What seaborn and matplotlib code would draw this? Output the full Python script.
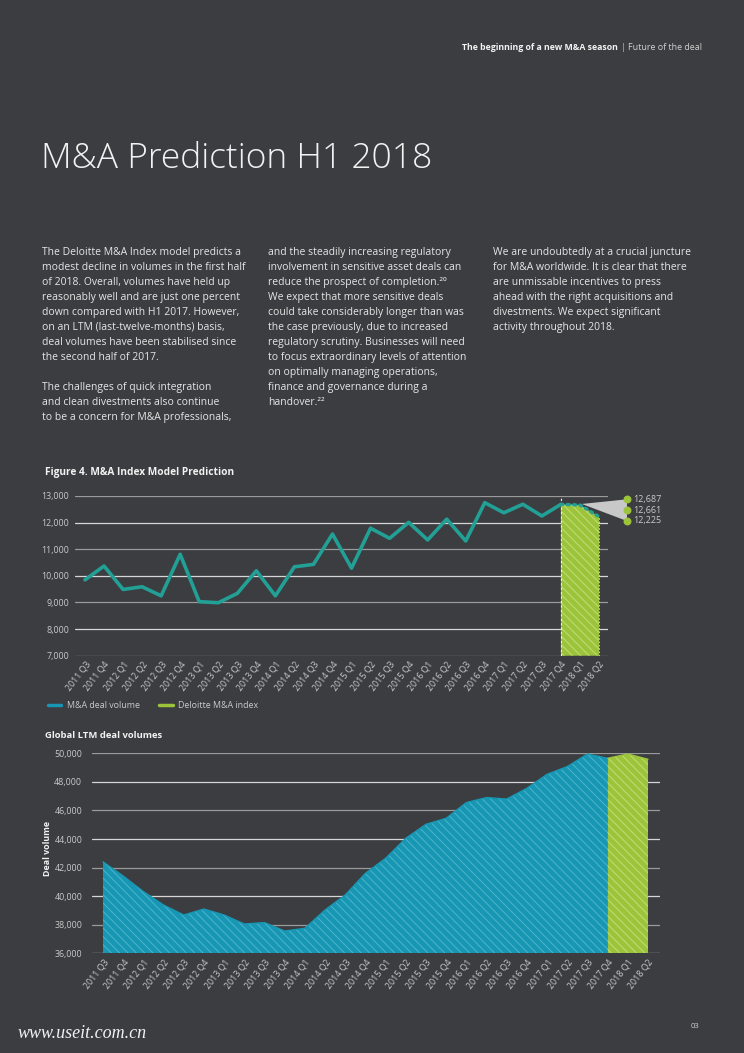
import matplotlib
matplotlib.use('Agg')
import matplotlib.pyplot as plt
from matplotlib.patches import Polygon
from matplotlib.lines import Line2D
import seaborn as sns

# ---- data ----
quarters = ['2011 Q3', '2011 Q4', '2012 Q1', '2012 Q2', '2012 Q3', '2012 Q4',
            '2013 Q1', '2013 Q2', '2013 Q3', '2013 Q4', '2014 Q1', '2014 Q2',
            '2014 Q3', '2014 Q4', '2015 Q1', '2015 Q2', '2015 Q3', '2015 Q4',
            '2016 Q1', '2016 Q2', '2016 Q3', '2016 Q4', '2017 Q1', '2017 Q2',
            '2017 Q3', '2017 Q4', '2018 Q1', '2018 Q2']

# quarterly deal volume, 2011 Q3 - 2017 Q4
deal_volume = [9850, 10370, 9490, 9590, 9250, 10810, 9030, 8990, 9340, 10190,
               9250, 10340, 10430, 11570, 10290, 11790, 11410, 12010, 11350,
               12130, 11310, 12750, 12370, 12690, 12250, 12687]
# Deloitte M&A index, 2017 Q4 - 2018 Q2
index_forecast = [12687, 12661, 12225]
forecast_labels = ['12,687', '12,661', '12,225']

# global LTM deal volumes, 2011 Q3 - 2017 Q4
ltm_volume = [42400, 41410, 40320, 39380, 38680, 39100, 38680, 38050, 38150,
              37560, 37750, 39030, 40080, 41600, 42650, 44050, 45030, 45450,
              46550, 46900, 46800, 47550, 48530, 49070, 49950, 49650]
# LTM index, 2017 Q4 - 2018 Q2
ltm_index = [49650, 49950, 49580]

top_yticks = [7000, 8000, 9000, 10000, 11000, 12000, 13000]
bottom_yticks = [36000, 38000, 40000, 42000, 44000, 46000, 48000, 50000]

col1 = ["The Deloitte M&A Index model predicts a",
        "modest decline in volumes in the first half",
        "of 2018. Overall, volumes have held up",
        "reasonably well and are just one percent",
        "down compared with H1 2017. However,",
        "on an LTM (last-twelve-months) basis,",
        "deal volumes have been stabilised since",
        "the second half of 2017.",
        "",
        "The challenges of quick integration",
        "and clean divestments also continue",
        "to be a concern for M&A professionals,"]
col2 = ["and the steadily increasing regulatory",
        "involvement in sensitive asset deals can",
        "reduce the prospect of completion.\u00b2\u2070",
        "We expect that more sensitive deals",
        "could take considerably longer than was",
        "the case previously, due to increased",
        "regulatory scrutiny. Businesses will need",
        "to focus extraordinary levels of attention",
        "on optimally managing operations,",
        "finance and governance during a",
        "handover.\u00b2\u00b2"]
col3 = ["We are undoubtedly at a crucial juncture",
        "for M&A worldwide. It is clear that there",
        "are unmissable incentives to press",
        "ahead with the right acquisitions and",
        "divestments. We expect significant",
        "activity throughout 2018."]

# ---- style ----
BG = '#3c3d41'
TEAL = '#22a096'
BLUE = '#1797b3'
GREEN = '#9cc43a'
TXT = '#e6e6e6'
TICK = '#c9c9c9'

sns.set_style('dark', {'axes.facecolor': BG, 'figure.facecolor': BG})
plt.rcParams['font.family'] = ['Open Sans', 'DejaVu Sans']
plt.rcParams['hatch.linewidth'] = 0.7

W, H = 744, 1053
fig = plt.figure(figsize=(W / 100, H / 100), dpi=100)
fig.patch.set_facecolor(BG)


def fx(px):
    return px / W


def fy(py):
    return 1 - py / H


# header
fig.text(fx(618), fy(47), 'The beginning of a new M&A season', ha='right', va='center',
         fontsize=6.3, fontweight='bold', color='#f2f2f2')
fig.text(fx(623), fy(47), '|', ha='center', va='center', fontsize=6.5, color='#bdbdbd')
fig.text(fx(628), fy(47), 'Future of the deal', ha='left', va='center', fontsize=6.4,
         color='#d0d0d0')

# title
fig.text(fx(41), fy(159), 'M&A Prediction H1 2018', ha='left', va='center',
         fontsize=25.5, fontweight='light', color='#f2f2f2')

# body columns
for xs, lines in [(42, col1), (268, col2), (493, col3)]:
    for i, line in enumerate(lines):
        fig.text(fx(xs), fy(252 + i * 15.05), line, ha='left', va='center',
                 fontsize=7.5, color=TXT)

# ---- top chart ----
fig.text(fx(45), fy(472), 'Figure 4. M&A Index Model Prediction', ha='left', va='center',
         fontsize=7.3, fontweight='bold', color='#f2f2f2')

ax1 = fig.add_axes([fx(75), fy(655.7), fx(608) - fx(75), (655.7 - 496) / H])
ax1.set_facecolor(BG)
for s in ax1.spines.values():
    s.set_visible(False)
ax1.set_xlim(-10 / 19.04, 27 + 9 / 19.04)
ax1.set_ylim(7000, 13000)
for k, t in enumerate(top_yticks):
    ax1.axhline(t, color='#d6d6d6' if k % 2 else '#9a9a9a', lw=0.9, zorder=1)

n_hist = len(deal_volume)
x_hist = list(range(n_hist))
x_fc = list(range(n_hist - 1, n_hist - 1 + len(index_forecast)))

ax1.fill_between(x_fc, index_forecast, 7000, facecolor=GREEN, edgecolor='#c4dc7a',
                 hatch='\\\\\\\\', linewidth=0, zorder=2)
ax1.axvline(x_fc[0], color='#f0f0f0', lw=0.8, ls=(0, (2, 2)), zorder=3)
ax1.plot([x_fc[-1], x_fc[-1]], [7000, index_forecast[-1]], color='#d8e9a0', lw=0.6,
         ls=(0, (2, 2)), zorder=3)

sns.lineplot(x=x_hist, y=deal_volume, ax=ax1, color=TEAL, lw=2.6, zorder=4)
ax1.plot(x_fc, index_forecast, color=TEAL, lw=2.4, ls=(0, (0.6, 1.3)),
         dash_capstyle='round', zorder=4)

# fan to forecast labels
label_x = 28.47
label_y = [12876, 12474, 12061]
fan = Polygon([(x_fc[1] + 0.1, index_forecast[1] + 40), (label_x, label_y[0]),
               (label_x, label_y[2])], closed=True, facecolor='#c8c8c8',
              edgecolor='none', clip_on=False, zorder=3)
ax1.add_patch(fan)
ax1.scatter([label_x] * 3, label_y, s=22, color=GREEN, clip_on=False, zorder=5)
for ly, lab in zip(label_y, forecast_labels):
    ax1.text(label_x + 0.33, ly, lab, ha='left', va='center', fontsize=6.5, color=TICK)

ax1.set_xticks(range(len(quarters)))
ax1.set_xticklabels(quarters, rotation=52, ha='right', rotation_mode='anchor')
ax1.set_yticks(top_yticks)
ax1.set_yticklabels([f'{v:,}' for v in top_yticks])
ax1.tick_params(axis='both', length=0, labelsize=6.4, labelcolor=TICK)
ax1.tick_params(axis='x', pad=3)
ax1.tick_params(axis='y', pad=4)
ax1.set_xlabel('')
ax1.set_ylabel('')

handles = [Line2D([], [], color=BLUE, lw=2.5), Line2D([], [], color=GREEN, lw=2.5)]
leg = fig.legend(handles, ['M&A deal volume', 'Deloitte M&A index'], loc='center left',
                 bbox_to_anchor=(fx(40), fy(706)), ncol=2, frameon=False,
                 handlelength=1.5, handletextpad=0.6, columnspacing=2.2, fontsize=6.4)
for t in leg.get_texts():
    t.set_color(TICK)

# ---- bottom chart ----
fig.text(fx(45), fy(736), 'Global LTM deal volumes', ha='left', va='center',
         fontsize=6.8, fontweight='bold', color='#f2f2f2')
fig.text(fx(47), fy(848), 'Deal volume', ha='center', va='center', rotation=90,
         fontsize=6.4, fontweight='bold', color='#f2f2f2')

ax2 = fig.add_axes([fx(92), fy(953.3), fx(660) - fx(92), 200 / H])
ax2.set_facecolor(BG)
for s in ax2.spines.values():
    s.set_visible(False)
ax2.set_xlim(-11 / 20.19, 27 + 12 / 20.19)
ax2.set_ylim(36000, 50000)
for k, t in enumerate(bottom_yticks):
    ax2.axhline(t, color='#d6d6d6' if k % 2 == 0 else '#9a9a9a', lw=0.9, zorder=1)

x_ltm = list(range(len(ltm_volume)))
x_ltm_fc = list(range(len(ltm_volume) - 1, len(ltm_volume) - 1 + len(ltm_index)))
ax2.fill_between(x_ltm, ltm_volume, 36000, facecolor=BLUE, edgecolor='#4fb4cb',
                 hatch='\\\\\\\\', linewidth=0, zorder=2)
ax2.fill_between(x_ltm_fc, ltm_index, 36000, facecolor=GREEN, edgecolor='#c4dc7a',
                 hatch='\\\\\\\\', linewidth=0, zorder=2)
sns.lineplot(x=x_ltm, y=ltm_volume, ax=ax2, color=BLUE, lw=1.0, zorder=3)
sns.lineplot(x=x_ltm_fc, y=ltm_index, ax=ax2, color=GREEN, lw=1.0, zorder=3)

ax2.set_xticks(range(len(quarters)))
ax2.set_xticklabels(quarters, rotation=52, ha='right', rotation_mode='anchor')
ax2.set_yticks(bottom_yticks)
ax2.set_yticklabels([f'{v:,}' for v in bottom_yticks])
ax2.tick_params(axis='both', length=0, labelsize=6.4, labelcolor=TICK)
ax2.tick_params(axis='x', pad=3)
ax2.tick_params(axis='y', pad=7)
ax2.set_xlabel('')
ax2.set_ylabel('')

# footer
fig.text(fx(18), fy(1033), 'www.useit.com.cn', ha='left', va='center', fontsize=13,
         style='italic', family='Liberation Serif', color='#f2f2f2')
fig.text(fx(695), fy(1026), '03', ha='center', va='center', fontsize=5.5, color='#d0d0d0')

fig.savefig('out.png', dpi=100, facecolor=BG)
